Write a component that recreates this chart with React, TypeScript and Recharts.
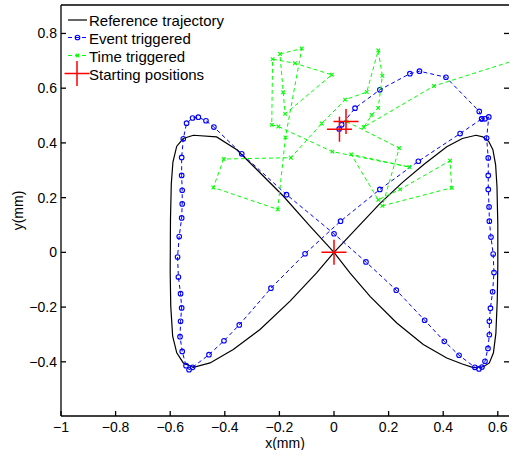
import { ScatterChart, Scatter, XAxis, YAxis } from "recharts";

const FONT = "'Liberation Sans', Arial, Helvetica, sans-serif";

const xTicks = [-1, -0.8, -0.6, -0.4, -0.2, 0, 0.2, 0.4, 0.6];
const yTicks = [-0.4, -0.2, 0, 0.2, 0.4, 0.6, 0.8];

// [x, y] in mm, in the order they were traced
const referenceTrajectory = [
  [0, 0], [0.08, 0.085], [0.168, 0.178], [0.25, 0.255], [0.33, 0.322],
  [0.413, 0.386], [0.47, 0.416], [0.52, 0.428], [0.545, 0.422], [0.567, 0.405],
  [0.582, 0.375], [0.592, 0.32], [0.597, 0.24], [0.6, 0.1], [0.6, -0.05],
  [0.598, -0.174], [0.593, -0.295], [0.584, -0.367], [0.569, -0.404], [0.547, -0.418],
  [0.51, -0.421], [0.47, -0.408], [0.413, -0.386], [0.327, -0.337], [0.23, -0.258],
  [0.132, -0.161], [0.059, -0.076], [0, 0], [-0.088, 0.096], [-0.186, 0.206],
  [-0.283, 0.303], [-0.356, 0.375], [-0.43, 0.422], [-0.515, 0.428], [-0.552, 0.416],
  [-0.576, 0.388], [-0.59, 0.33], [-0.596, 0.25], [-0.599, 0.12], [-0.6, -0.074],
  [-0.598, -0.196], [-0.591, -0.306], [-0.576, -0.367], [-0.552, -0.404], [-0.515, -0.42],
  [-0.454, -0.404], [-0.369, -0.355], [-0.271, -0.282], [-0.161, -0.178], [-0.063, -0.074],
  [0, 0],
];

const eventTriggered = [
  [0.019, 0.451], [0.028, 0.466], [0.077, 0.527], [0.168, 0.594], [0.278, 0.653],
  [0.313, 0.662], [0.41, 0.64], [0.532, 0.515], [0.541, 0.488], [0.553, 0.488],
  [0.567, 0.495], [0.559, 0.418], [0.565, 0.345], [0.565, 0.281], [0.565, 0.23],
  [0.568, 0.166], [0.569, 0.114], [0.575, 0.056], [0.583, -0.006], [0.586, -0.074],
  [0.581, -0.144], [0.573, -0.204], [0.569, -0.252], [0.569, -0.301], [0.564, -0.351],
  [0.553, -0.398], [0.542, -0.419], [0.531, -0.426], [0.516, -0.42], [0.458, -0.376],
  [0.404, -0.325], [0.332, -0.248], [0.228, -0.138], [0.117, -0.035], [0.0, 0.068],
  [-0.174, 0.211], [-0.338, 0.36], [-0.44, 0.458], [-0.469, 0.481], [-0.497, 0.494],
  [-0.518, 0.491], [-0.54, 0.472], [-0.552, 0.415], [-0.558, 0.347], [-0.558, 0.281],
  [-0.556, 0.227], [-0.556, 0.177], [-0.558, 0.126], [-0.567, 0.058], [-0.573, -0.017],
  [-0.57, -0.09], [-0.562, -0.151], [-0.558, -0.203], [-0.562, -0.252], [-0.564, -0.308],
  [-0.556, -0.362], [-0.542, -0.414], [-0.531, -0.429], [-0.518, -0.42], [-0.458, -0.374],
  [-0.403, -0.323], [-0.347, -0.265], [-0.231, -0.131], [-0.106, -0.005], [0.024, 0.114],
  [0.168, 0.23], [0.309, 0.333], [0.462, 0.434], [0.541, 0.488],
];

const timeTriggered = [
  [0.046, 0.478], [0.239, 0.381], [0.177, 0.17], [0.431, 0.236], [0.425, 0.335],
  [0.242, 0.23], [0.162, 0.192], [0.063, 0.358], [0.276, 0.312], [-0.006, 0.368],
  [-0.204, 0.46], [-0.228, 0.466], [-0.225, 0.706], [-0.143, 0.691], [-0.008, 0.649],
  [-0.179, 0.506], [-0.186, 0.585], [-0.198, 0.725], [-0.118, 0.745], [-0.178, 0.42],
  [-0.206, 0.157], [-0.442, 0.237], [-0.404, 0.341], [-0.158, 0.346], [-0.045, 0.471],
  [0.041, 0.558], [0.12, 0.586], [0.162, 0.738], [0.177, 0.645], [0.162, 0.528],
  [0.138, 0.502], [0.109, 0.458], [0.366, 0.608], [0.72, 0.72],
];

const startingPositions = [
  [0, 0], [0.02, 0.45], [0.044, 0.478],
];

const toPoints = (a: number[][]) => a.map(([x, y]) => ({ x, y }));

const fmt = (v: number) => (v < 0 ? "\u2212" + Math.abs(v) : String(v));

const NoMarker = () => <g />;
const NoTick = () => <g />;

const CircleMarker = (p: any) => (
  <circle cx={p.cx} cy={p.cy} r={2.3} fill="none" stroke="#0000ff" strokeWidth={1.1} />
);

const XMarker = (p: any) => {
  const s = 1.8;
  return (
    <path
      d={`M${p.cx - s},${p.cy - s}L${p.cx + s},${p.cy + s}M${p.cx - s},${p.cy + s}L${p.cx + s},${p.cy - s}`}
      stroke="#00ff00"
      strokeWidth={1.1}
      fill="none"
    />
  );
};

const PlusMarker = (p: any) => {
  const s = 12.5;
  return (
    <path
      d={`M${p.cx - s},${p.cy}L${p.cx + s},${p.cy}M${p.cx},${p.cy - s}L${p.cx},${p.cy + s}`}
      stroke="#ff0000"
      strokeWidth={1.5}
      fill="none"
    />
  );
};

const axisStyle = { stroke: "#000", strokeWidth: 1.3 };
const tickStyle = { fill: "#000", fontSize: 14, fontFamily: FONT };

// legend drawn inside the plot box, top-left, no frame
function LegendBox() {
  const rows = [
    { label: "Reference trajectory", y: 20 },
    { label: "Event triggered", y: 37.5 },
    { label: "Time triggered", y: 55.5 },
    { label: "Starting positions", y: 73.5 },
  ];
  return (
    <svg
      width={240}
      height={95}
      style={{ position: "absolute", left: 0, top: 0, pointerEvents: "none" }}
    >
      <line x1={68} x2={87} y1={rows[0].y} y2={rows[0].y} stroke="#000" strokeWidth={1.2} />
      <line x1={68} x2={87} y1={rows[1].y} y2={rows[1].y} stroke="#0000ff" strokeWidth={1} strokeDasharray="4 3" />
      <CircleMarker cx={77.5} cy={rows[1].y} />
      <line x1={68} x2={87} y1={rows[2].y} y2={rows[2].y} stroke="#00ff00" strokeWidth={1} strokeDasharray="4 3" />
      <XMarker cx={77.5} cy={rows[2].y} />
      <PlusMarker cx={77} cy={rows[3].y} />
      {rows.map((r) => (
        <text key={r.label} x={89} y={r.y + 6} fontSize={15} fontFamily={FONT} fill="#000">
          {r.label}
        </text>
      ))}
    </svg>
  );
}

export default function App() {
  const xDomain = [-1, 0.641];
  const yDomain = [-0.598, 0.904];
  return (
    <div style={{ position: "absolute", left: 0, top: 0, width: 510, height: 450, background: "#fff" }}>
      <ScatterChart width={510} height={450} margin={{ top: 4, right: 0, bottom: 0, left: 0 }}>
        <XAxis
          type="number"
          dataKey="x"
          domain={xDomain}
          allowDataOverflow
          ticks={xTicks}
          interval={0}
          tickFormatter={fmt}
          tickSize={-5}
          tickMargin={11}
          height={34}
          axisLine={axisStyle}
          tickLine={axisStyle}
          tick={tickStyle}
          label={{ value: "x(mm)", position: "insideBottom", offset: 2, style: { fill: "#000", fontSize: 14, fontFamily: FONT } }}
        />
        <XAxis
          xAxisId="top"
          orientation="top"
          type="number"
          domain={xDomain}
          allowDataOverflow
          ticks={xTicks}
          interval={0}
          tickSize={-5}
          height={1}
          axisLine={axisStyle}
          tickLine={axisStyle}
          tick={NoTick}
        />
        <YAxis
          type="number"
          dataKey="y"
          domain={yDomain}
          allowDataOverflow
          ticks={yTicks}
          interval={0}
          tickFormatter={fmt}
          tickSize={-5}
          tickMargin={9}
          width={61}
          axisLine={axisStyle}
          tickLine={axisStyle}
          tick={tickStyle}
          label={{
            value: "y(mm)",
            angle: -90,
            position: "insideLeft",
            offset: 18,
            style: { fill: "#000", fontSize: 14, fontFamily: FONT, textAnchor: "middle" },
          }}
        />
        <YAxis
          yAxisId="right"
          orientation="right"
          type="number"
          domain={yDomain}
          allowDataOverflow
          ticks={yTicks}
          interval={0}
          tickSize={-5}
          width={1}
          axisLine={false}
          tickLine={axisStyle}
          tick={NoTick}
        />
        <Scatter
          data={toPoints(referenceTrajectory)}
          line={{ stroke: "#000", strokeWidth: 1.2 }}
          shape={NoMarker}
          isAnimationActive={false}
        />
        <Scatter
          data={toPoints(eventTriggered)}
          line={{ stroke: "#0000ff", strokeWidth: 1, strokeDasharray: "4 3" }}
          shape={CircleMarker}
          isAnimationActive={false}
        />
        <Scatter
          data={toPoints(timeTriggered)}
          line={{ stroke: "#00ff00", strokeWidth: 1, strokeDasharray: "4 3" }}
          shape={XMarker}
          isAnimationActive={false}
        />
        <Scatter
          data={toPoints(startingPositions)}
          shape={PlusMarker}
          isAnimationActive={false}
        />
      </ScatterChart>
      <LegendBox />
    </div>
  );
}
